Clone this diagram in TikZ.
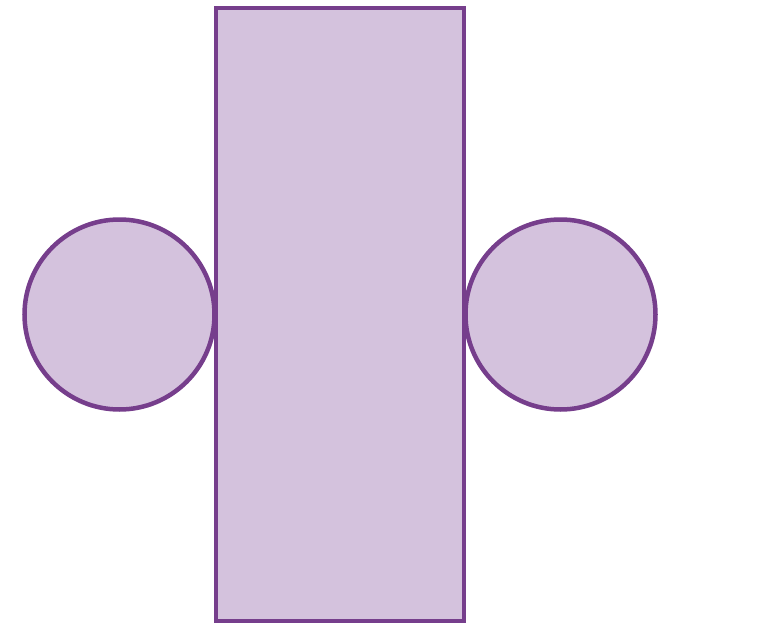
\documentclass[tikz,border=0pt]{standalone}
\usepackage{tikz}
\usepackage{xcolor}
\definecolor{netline}{RGB}{118,62,140}
\definecolor{netfill}{RGB}{212,194,221}

\begin{document}
\begin{tikzpicture}[x=1pt,y=-1pt,
  face/.style={draw=netline,fill=netfill,line width=4.5pt,inner sep=0pt,outer sep=0pt}]
\useasboundingbox (0,0) rectangle (774,632);
\node[face,circle,minimum size=190pt] (leftcap) at (119.5,314.5) {};
\node[face,circle,minimum size=190pt] (rightcap) at (560.5,314.5) {};
\node[face,rectangle,minimum width=248pt,minimum height=613pt] (side) at (340,314.5) {};
\end{tikzpicture}
\end{document}
